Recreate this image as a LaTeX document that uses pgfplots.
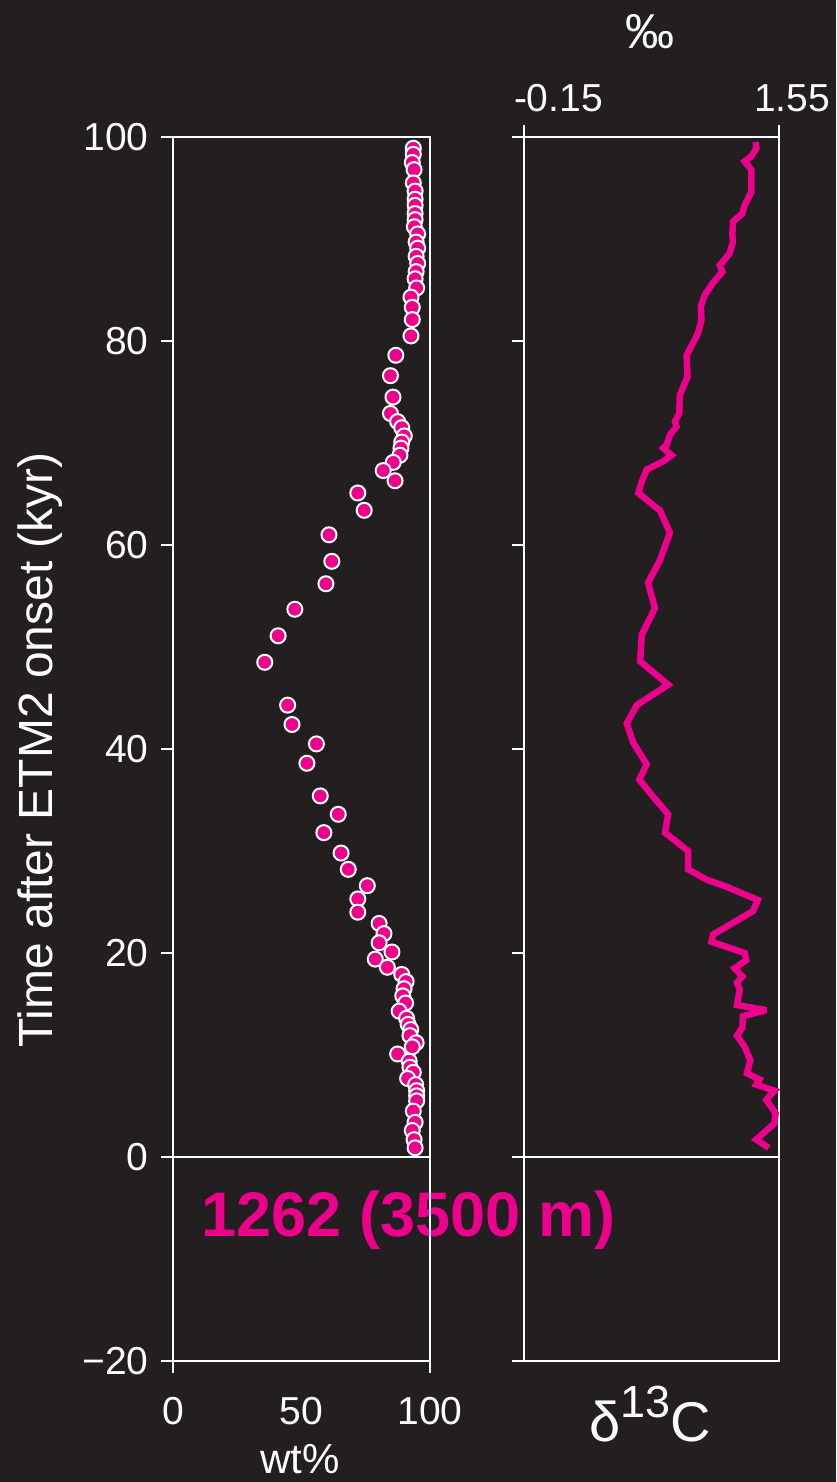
\documentclass[border=0pt]{standalone}
\usepackage{fontspec}
\setmainfont{Liberation Sans}
\usepackage{pgfplots}
\pgfplotsset{compat=1.18}
\definecolor{bg}{HTML}{231F20}
\definecolor{mag}{HTML}{EC008C}
\newcommand{\tickfont}{\fontsize{39}{39}\selectfont}
\begin{document}
\begin{tikzpicture}
\path[use as bounding box, fill=bg] (0,0) rectangle (836pt,1482pt);
% site label (drawn below axes so the spine crosses it)
\node[anchor=base, text=mag, font=\fontsize{63}{63}\selectfont\bfseries, inner sep=0pt] at (408.5pt,245.3pt) {1262 (3500 m)};
% left axis
\begin{axis}[
  at={(173pt,121pt)}, anchor=south west, scale only axis,
  width=257pt, height=1224pt,
  xmin=0, xmax=100, ymin=-20, ymax=100,
  axis line style={white, line width=1.5pt},
  tick style={white, line width=1.5pt},
  major tick length=12pt, tick align=outside,
  xtick={0,100}, xticklabels={0,100},
  extra x ticks={50}, extra x tick labels={50},
  extra x tick style={major tick length=0pt, xticklabel style={yshift=-12pt}},
  extra y ticks={0}, extra y tick labels={},
  extra y tick style={grid=major, major grid style={white, line width=1.5pt}},
  xtick pos=bottom, ytick pos=left,
  ytick={-20,0,20,40,60,80,100},
  yticklabels={−20,0,20,40,60,80,100},
  ticklabel style={font=\tickfont, text=white},
  yticklabel style={anchor=east, xshift=-9pt},
  xticklabel style={anchor=base, yshift=-51pt},
  /pgf/number format/assume math mode=true,
  clip=false,
]
\addplot[only marks, mark=*, mark size=7.5pt, mark options={fill=mag, draw=white, line width=2pt}] table {
x y
93.5 98.9
93.5 98.3
93.1 97.5
93.8 96.8
93.5 95.5
94.2 94.7
94.2 93.9
94.2 93.3
94.2 92.5
94.2 91.9
93.9 91.2
95.2 90.5
94.6 89.7
95.2 89.1
94.6 88.3
95.2 87.6
94.6 86.8
94.2 86.1
94.8 85.2
92.6 84.3
93.1 83.3
93.1 82.1
92.6 80.5
86.7 78.6
84.6 76.6
85.6 74.5
84.6 72.9
87.4 72.1
89.0 71.5
90.0 70.7
89.0 70.1
88.7 69.5
88.3 68.8
85.7 68.1
81.8 67.3
86.4 66.3
71.9 65.1
74.4 63.4
60.7 61.0
61.8 58.4
59.5 56.2
47.4 53.7
40.9 51.1
35.7 48.5
44.6 44.3
46.3 42.4
55.8 40.5
52.1 38.6
57.3 35.4
64.3 33.6
58.7 31.8
65.4 29.8
68.2 28.2
75.6 26.6
71.9 25.3
71.9 24.0
80.2 22.9
82.1 21.9
80.2 21.0
85.2 20.1
78.7 19.4
83.4 18.6
89.0 17.9
90.7 17.2
89.9 16.5
89.4 15.8
90.5 15.1
88.0 14.3
90.9 13.6
91.5 13.0
92.5 12.5
92.2 11.9
94.6 11.2
93.1 10.8
87.4 10.1
91.9 9.4
92.2 8.8
93.5 8.3
91.3 7.7
94.4 7.1
94.8 6.5
94.8 6.0
94.8 5.5
93.5 4.5
94.2 3.4
93.1 2.6
93.8 1.7
94.2 0.9
};
\end{axis}
% right axis
\begin{axis}[
  at={(524pt,121pt)}, anchor=south west, scale only axis,
  width=255pt, height=1224pt,
  xmin=-0.15, xmax=1.55, ymin=-20, ymax=100,
  axis line style={white, line width=1.5pt},
  tick style={white, line width=1.5pt},
  major tick length=12pt, tick align=outside,
  xtick pos=top, xticklabel pos=top, ytick pos=left,
  xtick={-0.15,1.55},
  xticklabels={{\makebox[0pt][l]{\kern-10pt -0.15}},{\makebox[0pt][l]{\kern-25pt 1.55}}},
  ytick={-20,0,20,40,60,80,100}, yticklabels={},
  extra y ticks={0}, extra y tick labels={},
  extra y tick style={grid=major, major grid style={white, line width=1.5pt}},
  ticklabel style={font=\tickfont, text=white},
  xticklabel style={anchor=base, yshift=13pt},
  clip=false,
]
\addplot[mag, line width=6.5pt, line join=miter, miter limit=3] table {
x y
1.394 99.5
1.399 98.9
1.365 98.1
1.321 97.6
1.365 96.8
1.365 94.6
1.321 93.3
1.306 92.5
1.243 91.7
1.239 90.4
1.243 89.7
1.221 88.6
1.155 87.4
1.173 86.8
1.110 85.7
1.055 84.5
1.029 83.4
1.033 82.1
1.011 80.8
0.977 79.8
0.934 78.6
0.940 76.5
0.889 74.7
0.885 72.9
0.856 72.1
0.867 71.6
0.823 70.8
0.801 69.8
0.778 69.5
0.834 68.8
0.778 68.2
0.668 67.4
0.635 66.2
0.612 65.1
0.712 63.9
0.756 63.4
0.823 61.2
0.756 58.5
0.677 56.3
0.723 53.8
0.635 51.2
0.624 48.6
0.811 46.3
0.602 44.3
0.535 42.5
0.579 40.6
0.668 38.5
0.619 37.0
0.701 35.5
0.811 33.6
0.790 31.8
0.944 30.0
0.944 28.2
1.066 27.2
1.199 26.5
1.409 25.2
1.376 24.1
1.110 21.8
1.100 21.1
1.321 20.0
1.332 19.3
1.254 18.5
1.306 17.7
1.270 17.1
1.288 16.4
1.270 14.9
1.465 14.4
1.309 13.8
1.306 12.7
1.270 11.9
1.321 10.8
1.359 9.5
1.336 8.2
1.420 7.6
1.398 7.1
1.520 6.5
1.465 5.6
1.527 4.3
1.520 3.3
1.398 1.7
1.482 0.9
};
\end{axis}
% labels
\node[rotate=90, text=white, font=\fontsize{48}{48}\selectfont, inner sep=0pt] at (40pt,732pt) {Time after ETM2 onset (kyr)};
\node[anchor=base, text=white, font=\fontsize{42}{42}\selectfont, inner sep=0pt] at (300pt,9pt) {wt\%};
\node[anchor=base, text=white, inner sep=0pt] at (650pt,40pt) {\fontsize{56}{56}\selectfont δ\raisebox{25pt}{\fontsize{45}{45}\selectfont 13}C};
\node[text=white, font=\fontsize{49}{49}\selectfont, inner sep=0pt] at (650pt,1450pt) {‰};
\end{tikzpicture}
\end{document}
